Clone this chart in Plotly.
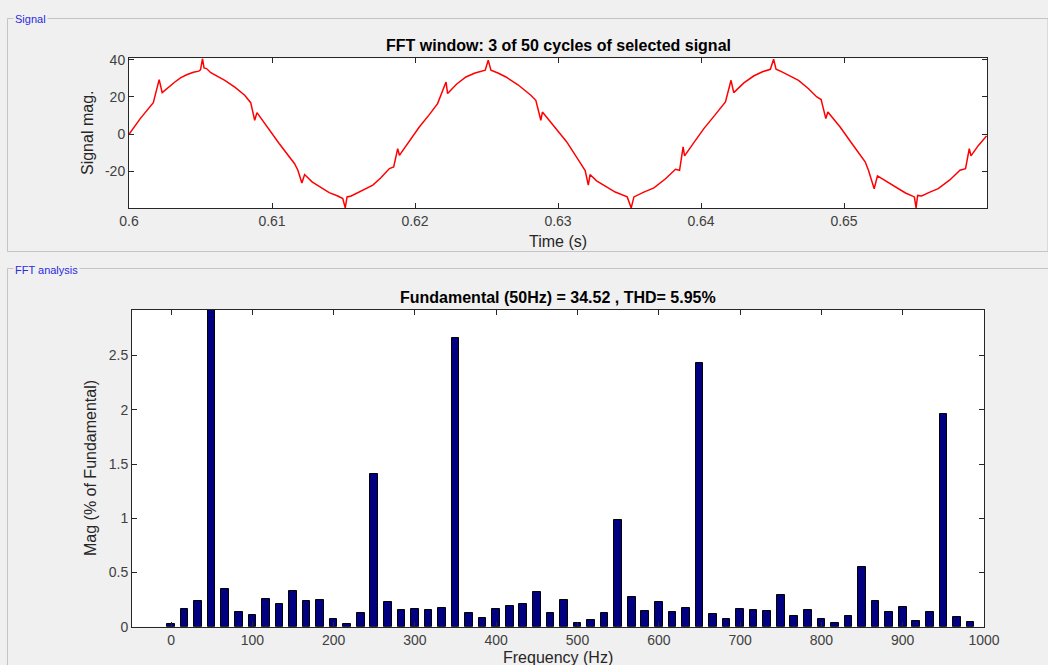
import plotly.graph_objects as go

W, H = 1048, 665

# ---- Signal window (time in s, magnitude) ----
sig_t = [0.6000, 0.6008, 0.6017, 0.60211, 0.60232, 0.6028, 0.60321, 0.6036, 0.60403, 0.6045,
         0.60488, 0.6050, 0.60514, 0.60525, 0.60542, 0.60572, 0.6062, 0.6067, 0.6074, 0.60809,
         0.60851, 0.60879, 0.60895, 0.60949, 0.6105, 0.61158, 0.61181, 0.61209, 0.61228, 0.6128,
         0.61345, 0.6140, 0.6146, 0.61495, 0.61512, 0.61525, 0.61554, 0.61612, 0.6166, 0.61705,
         0.6176, 0.61821, 0.61851, 0.61879, 0.61891, 0.6196, 0.6203, 0.6210, 0.62158, 0.62217,
         0.62228, 0.6229, 0.62356, 0.6242, 0.62491, 0.62512, 0.62531, 0.6258, 0.62636, 0.6272,
         0.6281, 0.62845, 0.6288, 0.62891, 0.62973, 0.6306, 0.63159, 0.6319, 0.63212, 0.63224,
         0.6327, 0.63322, 0.6340, 0.63484, 0.63512, 0.63531, 0.6360, 0.63671, 0.6375, 0.63822,
         0.6385, 0.63875, 0.63885, 0.6395, 0.6402, 0.6410, 0.64171, 0.6421, 0.64229, 0.6430,
         0.64368, 0.6443, 0.64485, 0.64508, 0.64525, 0.64566, 0.6462, 0.64682, 0.6475, 0.6481,
         0.6484, 0.64873, 0.64887, 0.64973, 0.6506, 0.65148, 0.65171, 0.65211, 0.65234, 0.6530,
         0.65357, 0.6543, 0.65492, 0.65504, 0.65515, 0.65543, 0.6560, 0.65659, 0.6574, 0.65811,
         0.6585, 0.65876, 0.65888, 0.6594, 0.65997]
sig_v = [0.0, 8.5, 16.9, 29.3, 22.3, 25.5, 28.0, 30.2, 31.9, 33.2,
         33.8, 34.5, 40.5, 35.5, 35.2, 33.0, 31.2, 28.9, 25.2, 20.9,
         16.9, 7.5, 11.6, 5.7, -5.0, -15.8, -19.3, -26.1, -21.6, -25.5,
         -28.8, -31.3, -33.1, -34.5, -39.5, -33.6, -33.1, -30.9, -29.2, -27.3,
         -23.5, -18.4, -17.5, -7.7, -11.3, -3.8, 3.9, 10.5, 16.4, 28.0,
         21.8, 26.8, 30.7, 32.8, 34.3, 39.7, 34.3, 32.8, 30.7, 26.5,
         20.9, 18.2, 7.5, 11.9, 4.4, -4.0, -15.8, -19.5, -27.3, -21.6,
         -25.0, -27.3, -31.0, -33.6, -39.5, -33.6, -31.0, -28.8, -24.0, -18.8,
         -19.3, -6.8, -11.6, -4.5, 3.0, 10.5, 17.3, 28.9, 22.3, 27.5,
         31.2, 33.5, 34.8, 40.2, 34.8, 33.4, 31.3, 28.9, 24.5, 20.0,
         18.6, 8.4, 11.9, 3.9, -5.5, -14.8, -19.3, -29.2, -22.3, -25.5,
         -28.2, -31.5, -33.6, -39.5, -32.8, -33.1, -31.0, -29.2, -24.5, -19.3,
         -18.5, -7.7, -11.6, -6.0, -0.9]

# ---- FFT spectrum (% of fundamental) ----
freqs = [0, 16.67, 33.33, 50, 66.67, 83.33, 100, 116.67, 133.33, 150,
         166.67, 183.33, 200, 216.67, 233.33, 250, 266.67, 283.33, 300, 316.67,
         333.33, 350, 366.67, 383.33, 400, 416.67, 433.33, 450, 466.67, 483.33,
         500, 516.67, 533.33, 550, 566.67, 583.33, 600, 616.67, 633.33, 650,
         666.67, 683.33, 700, 716.67, 733.33, 750, 766.67, 783.33, 800, 816.67,
         833.33, 850, 866.67, 883.33, 900, 916.67, 933.33, 950, 966.67, 983.33]
mags = [0.025, 0.163, 0.237, 100.0, 0.351, 0.132, 0.105, 0.255, 0.206, 0.329,
        0.237, 0.246, 0.071, 0.022, 0.123, 1.406, 0.225, 0.154, 0.163, 0.154,
        0.172, 2.658, 0.123, 0.083, 0.163, 0.188, 0.206, 0.317, 0.123, 0.246,
        0.034, 0.062, 0.123, 0.985, 0.277, 0.145, 0.228, 0.132, 0.175, 2.434,
        0.114, 0.071, 0.163, 0.154, 0.145, 0.295, 0.102, 0.154, 0.071, 0.031,
        0.102, 0.554, 0.237, 0.132, 0.185, 0.052, 0.132, 1.960, 0.092, 0.040]

sig_xticks = [0.6, 0.61, 0.62, 0.63, 0.64, 0.65]
sig_xtext = ["0.6", "0.61", "0.62", "0.63", "0.64", "0.65"]
sig_yticks = [-20, 0, 20, 40]
sig_ytext = ["-20", "0", "20", "40"]
fft_xticks = [0, 100, 200, 300, 400, 500, 600, 700, 800, 900, 1000]
fft_xtext = ["0", "100", "200", "300", "400", "500", "600", "700", "800", "900", "1000"]
fft_yticks = [0, 0.5, 1, 1.5, 2, 2.5]
fft_ytext = ["0", "0.5", "1", "1.5", "2", "2.5"]

FONT = "Liberation Sans, Arial, Helvetica, sans-serif"
AX = "#262626"
TICKC = "#404040"
BG = "#f0f0f0"


def px(x):
    return x / W


def py(y):
    return 1 - y / H


fig = go.Figure()
fig.add_trace(go.Scatter(x=sig_t, y=sig_v, mode="lines",
                         line=dict(color="#ff0000", width=1.5),
                         xaxis="x", yaxis="y", showlegend=False))
fig.add_trace(go.Bar(x=freqs, y=mags, width=9.4,
                     marker=dict(color="#000080", line=dict(color="#000000", width=1)),
                     xaxis="x2", yaxis="y2", showlegend=False))

common = dict(showgrid=False, zeroline=False, showline=True, linecolor=AX, linewidth=1,
              mirror="ticks", ticks="inside", ticklen=5, tickcolor=AX, automargin=False,
              tickfont=dict(family=FONT, size=14, color=TICKC))

fig.update_layout(
    width=W, height=H, autosize=False,
    margin=dict(l=0, r=0, t=0, b=0, pad=0, autoexpand=False),
    paper_bgcolor=BG, plot_bgcolor="#ffffff",
    font=dict(family=FONT),
    xaxis=dict(domain=[px(129), px(987)], range=[0.6, 0.66], anchor="y",
               tickvals=sig_xticks, ticktext=sig_xtext, **common),
    yaxis=dict(domain=[py(208.3), py(58.3)], range=[-39.7, 40.7], anchor="x",
               tickvals=sig_yticks, ticktext=sig_ytext, **common),
    xaxis2=dict(domain=[px(132), px(984)], range=[-48, 1000], anchor="y2",
                tickvals=fft_xticks, ticktext=fft_xtext, **common),
    yaxis2=dict(domain=[py(626.7), py(310)], range=[0, 2.92], anchor="x2",
                tickvals=fft_yticks, ticktext=fft_ytext, **common),
    bargap=0,
)

shapes = [
    dict(type="rect", xref="paper", yref="paper", x0=px(7.5), x1=1.0, y0=py(251.5), y1=py(18.5),
         line=dict(color="#c4c4c4", width=1), fillcolor="rgba(0,0,0,0)", layer="below"),
    dict(type="line", xref="paper", yref="paper", x0=px(7.5), x1=1.0, y0=py(268.5), y1=py(268.5),
         line=dict(color="#c4c4c4", width=1), layer="below"),
    dict(type="line", xref="paper", yref="paper", x0=px(7.5), x1=px(7.5), y0=0.0, y1=py(268.5),
         line=dict(color="#c4c4c4", width=1), layer="below"),
]
fig.update_layout(shapes=shapes)

ann = [
    dict(text="Signal", x=px(13), y=py(19), xanchor="left", yanchor="middle",
         font=dict(family=FONT, size=11, color="#2a2ae0"), bgcolor=BG, borderpad=1),
    dict(text="FFT analysis", x=px(13), y=py(270), xanchor="left", yanchor="middle",
         font=dict(family=FONT, size=11, color="#2a2ae0"), bgcolor=BG, borderpad=1),
    dict(text="<b>FFT window: 3 of 50 cycles of selected signal</b>", x=px(558), y=py(45),
         xanchor="center", yanchor="middle", font=dict(family=FONT, size=16, color="#000000")),
    dict(text="<b>Fundamental (50Hz) = 34.52 , THD= 5.95%</b>", x=px(558), y=py(297),
         xanchor="center", yanchor="middle", font=dict(family=FONT, size=16, color="#000000")),
    dict(text="Signal mag.", x=px(88), y=py(133), textangle=-90, xanchor="center", yanchor="middle",
         font=dict(family=FONT, size=16, color=AX)),
    dict(text="Time (s)", x=px(558), y=py(241), xanchor="center", yanchor="middle",
         font=dict(family=FONT, size=16, color=AX)),
    dict(text="Mag (% of Fundamental)", x=px(90), y=py(468), textangle=-90, xanchor="center",
         yanchor="middle", font=dict(family=FONT, size=16, color=AX)),
    dict(text="Frequency (Hz)", x=px(558), y=py(657), xanchor="center", yanchor="middle",
         font=dict(family=FONT, size=16, color=AX)),
]
for a in ann:
    a.update(xref="paper", yref="paper", showarrow=False)
fig.update_layout(annotations=ann)

fig.write_html("out.html", config={"displayModeBar": False},
               post_script="document.body.style.margin='0';document.body.style.background='#f0f0f0';")
